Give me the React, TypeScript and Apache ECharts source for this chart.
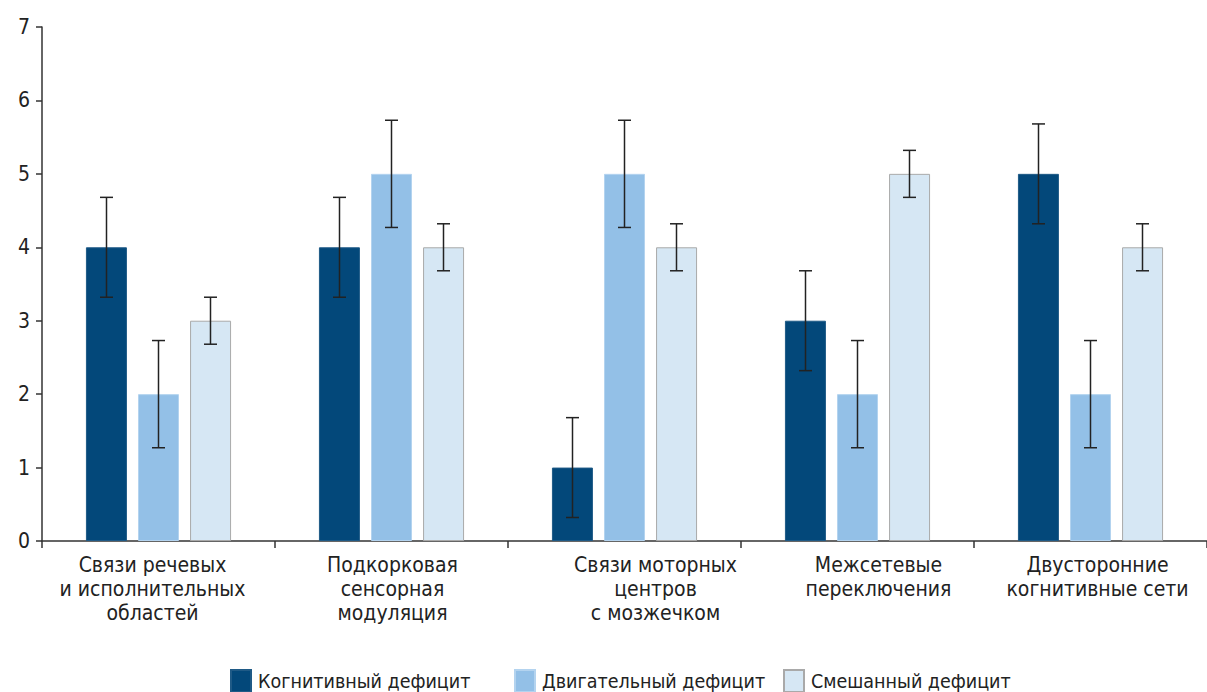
import React, { useEffect, useRef } from "react";
import * as echarts from "echarts";

const categories = [
  "Связи речевых\nи исполнительных\nобластей",
  "Подкорковая\nсенсорная\nмодуляция",
  "Связи моторных\nцентров\nс мозжечком",
  "Межсетевые\nпереключения",
  "Двусторонние\nкогнитивные сети",
];
const seriesNames = ["Когнитивный дефицит", "Двигательный дефицит", "Смешанный дефицит"];
const cognitive = [4, 4, 1, 3, 5];
const motor = [2, 5, 5, 2, 2];
const mixed = [3, 4, 4, 5, 4];
const cognitiveErr = [0.68, 0.68, 0.68, 0.68, 0.68];
const motorErr = [0.73, 0.73, 0.73, 0.73, 0.73];
const mixedErr = [0.32, 0.32, 0.32, 0.32, 0.32];
const yTicks = [0, 1, 2, 3, 4, 5, 6, 7];

const FONT = '"Liberation Sans Narrow", "DejaVu Sans Condensed", sans-serif';
const colors = ["#03487a", "#93c0e7", "#d6e7f4"];
const borders = ["#1f5a86", "#b3d3ef", "#a9a9a9"];
const BAR_W = 41;
const STEP = 52;
// horizontal label padding [left, right] to mimic label placement
const labelPads = [
  [0, 12],
  [2, 0],
  [62, 0],
  [42, 0],
  [14, 0],
];

export default function App() {
  const ref = useRef<HTMLDivElement>(null);
  useEffect(() => {
    document.body.style.margin = "0";
    const chart = echarts.init(ref.current!, undefined, { renderer: "svg" });
    const values = [cognitive, motor, mixed];
    const errs = [cognitiveErr, motorErr, mixedErr];
    const errData: number[][] = [];
    values.forEach((vals, s) => {
      vals.forEach((v, i) => {
        errData.push([i, s, v - errs[s][i], v + errs[s][i]]);
      });
    });
    const bars = values.map((vals, s) => ({
      type: "bar",
      name: seriesNames[s],
      data: vals,
      barWidth: BAR_W,
      barGap: "27%",
      itemStyle: { color: colors[s], borderColor: borders[s], borderWidth: 1 },
      z: 2,
    }));
    const legends = [230, 514, 783].map((left, s) => ({
      data: [{ name: seriesNames[s], icon: "rect" }],
      left,
      top: 669,
      padding: 0,
      itemWidth: 20,
      itemHeight: 22,
      itemGap: 0,
      textStyle: {
        fontFamily: FONT,
        fontSize: 19.5,
        lineHeight: 22,
        color: "#222",
        padding: [0, 0, 0, 2],
      },
      selectedMode: false,
    }));
    chart.setOption({
      animation: false,
      color: colors,
      legend: legends,
      grid: { left: 42, right: -8, top: 27, bottom: 151, containLabel: false },
      xAxis: {
        type: "category",
        data: categories.map((c, i) => ({
          value: c,
          textStyle: { padding: [0, labelPads[i][1], 0, labelPads[i][0]] },
        })),
        axisLine: { lineStyle: { color: "#333", width: 1.5 } },
        axisTick: { show: true, length: 7, lineStyle: { color: "#333", width: 1.5 } },
        axisLabel: {
          interval: 0,
          fontFamily: FONT,
          fontSize: 21,
          color: "#222",
          lineHeight: 24,
          margin: 12,
        },
      },
      yAxis: {
        type: "value",
        min: 0,
        max: 7,
        interval: 1,
        splitLine: { show: false },
        axisLine: { show: true, lineStyle: { color: "#333", width: 1.5 } },
        axisTick: { show: true, length: 6, lineStyle: { color: "#333", width: 1.5 } },
        axisLabel: {
          fontFamily: FONT,
          fontSize: 21,
          color: "#222",
          margin: 12,
          formatter: (v: number) => (yTicks.includes(v) ? String(v) : ""),
        },
      },
      series: [
        ...bars,
        {
          type: "custom",
          name: "err",
          data: errData,
          z: 5,
          renderItem: (params: any, api: any) => {
            const i = api.value(0);
            const s = api.value(1);
            const lo = api.coord([i, api.value(2)]);
            const hi = api.coord([i, api.value(3)]);
            const x = lo[0] + (s - 1) * STEP;
            const cap = 6.5;
            const st = { stroke: "#222", lineWidth: 1.5 };
            return {
              type: "group",
              children: [
                { type: "line", shape: { x1: x, y1: lo[1], x2: x, y2: hi[1] }, style: st },
                { type: "line", shape: { x1: x - cap, y1: lo[1], x2: x + cap, y2: lo[1] }, style: st },
                { type: "line", shape: { x1: x - cap, y1: hi[1], x2: x + cap, y2: hi[1] }, style: st },
              ],
            };
          },
        },
      ],
    });
    return () => chart.dispose();
  }, []);
  return <div ref={ref} style={{ width: 1207, height: 692 }} />;
}
